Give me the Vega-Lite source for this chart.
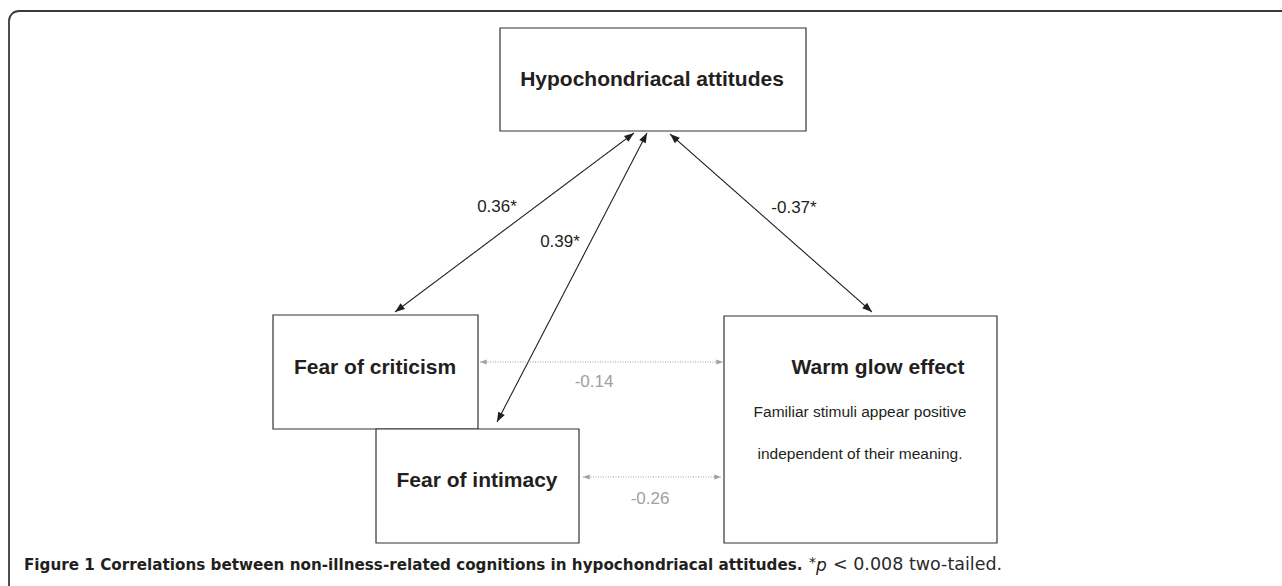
{
  "$schema": "https://vega.github.io/schema/vega-lite/v6.json",
  "width": 1282,
  "height": 586,
  "autosize": {"type": "fit", "contains": "padding"},
  "padding": 0,
  "background": "white",
  "config": {"view": {"stroke": null}},
  "datasets": {
    "frame": [{"x": 9, "y": 11, "x2": 1400, "y2": 700}],
    "boxes": [
      {"name": "Hypochondriacal attitudes", "x": 500, "x2": 806, "y": 28, "y2": 131},
      {"name": "Fear of criticism", "x": 273, "x2": 478, "y": 315, "y2": 429},
      {"name": "Fear of intimacy", "x": 376, "x2": 579, "y": 429, "y2": 543},
      {"name": "Warm glow effect", "x": 724, "x2": 997, "y": 316, "y2": 543}
    ],
    "arrows": [
      {"pair": "HA-FC", "x": 634, "y": 133, "x2": 395, "y2": 312, "sig": "yes"},
      {"pair": "HA-FI", "x": 647, "y": 133, "x2": 497, "y2": 422, "sig": "yes"},
      {"pair": "HA-WG", "x": 670, "y": 134, "x2": 872, "y2": 312, "sig": "yes"},
      {"pair": "FC-WG", "x": 480, "y": 362, "x2": 723, "y2": 362, "sig": "no"},
      {"pair": "FI-WG", "x": 583, "y": 477, "x2": 721, "y2": 477, "sig": "no"}
    ],
    "labels": [
      {"t": "0.36*", "x": 497, "y": 207, "sig": "yes"},
      {"t": "0.39*", "x": 560, "y": 242, "sig": "yes"},
      {"t": "-0.37*", "x": 794, "y": 208, "sig": "yes"},
      {"t": "-0.14", "x": 594, "y": 382, "sig": "no"},
      {"t": "-0.26", "x": 650, "y": 499, "sig": "no"}
    ],
    "titles": [
      {"t": "Hypochondriacal attitudes", "x": 652, "y": 80},
      {"t": "Fear of criticism", "x": 375, "y": 368},
      {"t": "Fear of intimacy", "x": 477, "y": 481},
      {"t": "Warm glow effect", "x": 878, "y": 368}
    ],
    "desc": [
      {"t": "Familiar stimuli appear positive", "x": 860, "y": 412},
      {"t": "independent of their meaning.", "x": 860, "y": 454}
    ]
  },
  "encoding": {
    "x": {"field": "x", "type": "quantitative", "axis": null, "scale": {"domain": [0, 1282], "nice": false, "zero": false}},
    "y": {"field": "y", "type": "quantitative", "axis": null, "scale": {"domain": [0, 586], "nice": false, "zero": false, "reverse": true}}
  },
  "layer": [
    {
      "data": {"name": "frame"},
      "mark": {"type": "rect", "fill": null, "stroke": "#3a3a3a", "strokeWidth": 1.8, "cornerRadius": 10, "clip": true},
      "encoding": {"x2": {"field": "x2"}, "y2": {"field": "y2"}}
    },
    {
      "data": {"name": "boxes"},
      "mark": {"type": "rect", "fill": "white", "stroke": "#333333", "strokeWidth": 1.2},
      "encoding": {"x2": {"field": "x2"}, "y2": {"field": "y2"}}
    },
    {
      "data": {"name": "arrows"},
      "mark": {"type": "rule", "strokeWidth": 1.1},
      "encoding": {
        "x2": {"field": "x2"},
        "y2": {"field": "y2"},
        "color": {"field": "sig", "type": "nominal", "scale": {"domain": ["yes", "no"], "range": ["#231f20", "#a0a0a0"]}, "legend": null},
        "strokeDash": {"field": "sig", "type": "nominal", "scale": {"domain": ["yes", "no"], "range": [[1, 0], [1, 1.5]]}, "legend": null}
      }
    },
    {
      "data": {"name": "arrows"},
      "transform": [{"calculate": "atan2(datum.x - datum.x2, datum.y2 - datum.y) * 180 / PI", "as": "ang"}],
      "mark": {"type": "point", "shape": "M0,0L-0.38,1L0.38,1Z", "filled": true, "opacity": 1, "strokeWidth": 0},
      "encoding": {
        "angle": {"field": "ang", "type": "quantitative", "scale": null},
        "size": {"field": "sig", "type": "nominal", "scale": {"domain": ["yes", "no"], "range": [380, 180]}, "legend": null},
        "color": {"field": "sig", "type": "nominal", "scale": {"domain": ["yes", "no"], "range": ["#231f20", "#a0a0a0"]}, "legend": null}
      }
    },
    {
      "data": {"name": "arrows"},
      "transform": [{"calculate": "atan2(datum.x2 - datum.x, datum.y - datum.y2) * 180 / PI", "as": "ang"}],
      "mark": {"type": "point", "shape": "M0,0L-0.38,1L0.38,1Z", "filled": true, "opacity": 1, "strokeWidth": 0},
      "encoding": {
        "x": {"field": "x2", "type": "quantitative", "axis": null, "scale": {"domain": [0, 1282], "nice": false, "zero": false}},
        "y": {"field": "y2", "type": "quantitative", "axis": null, "scale": {"domain": [0, 586], "nice": false, "zero": false, "reverse": true}},
        "angle": {"field": "ang", "type": "quantitative", "scale": null},
        "size": {"field": "sig", "type": "nominal", "scale": {"domain": ["yes", "no"], "range": [380, 180]}, "legend": null},
        "color": {"field": "sig", "type": "nominal", "scale": {"domain": ["yes", "no"], "range": ["#231f20", "#a0a0a0"]}, "legend": null}
      }
    },
    {
      "data": {"name": "labels"},
      "mark": {"type": "text", "font": "Liberation Sans", "fontSize": 17, "align": "center", "baseline": "middle"},
      "encoding": {
        "text": {"field": "t"},
        "color": {"field": "sig", "type": "nominal", "scale": {"domain": ["yes", "no"], "range": ["#231f20", "#9a9a9a"]}, "legend": null}
      }
    },
    {
      "data": {"name": "titles"},
      "mark": {"type": "text", "font": "Liberation Sans", "fontSize": 21, "fontWeight": "bold", "align": "center", "baseline": "middle", "color": "#231f20"},
      "encoding": {"text": {"field": "t"}}
    },
    {
      "data": {"name": "desc"},
      "mark": {"type": "text", "font": "Liberation Sans", "fontSize": 15.5, "align": "center", "baseline": "middle", "color": "#231f20"},
      "encoding": {"text": {"field": "t"}}
    },
    {
      "data": {"values": [{"t": "Figure 1 Correlations between non-illness-related cognitions in hypochondriacal attitudes.", "x": 24, "y": 565}]},
      "mark": {"type": "text", "font": "DejaVu Sans", "fontSize": 15.2, "fontWeight": "bold", "align": "left", "baseline": "middle", "color": "#231f20"},
      "encoding": {"text": {"field": "t"}}
    },
    {
      "data": {"values": [{"t": "*", "x": 809, "y": 563}]},
      "mark": {"type": "text", "font": "DejaVu Sans", "fontSize": 14, "align": "left", "baseline": "middle", "color": "#231f20"},
      "encoding": {"text": {"field": "t"}}
    },
    {
      "data": {"values": [{"t": "p", "x": 816, "y": 566}]},
      "mark": {"type": "text", "font": "DejaVu Sans", "fontSize": 17, "fontStyle": "italic", "align": "left", "baseline": "middle", "color": "#231f20"},
      "encoding": {"text": {"field": "t"}}
    },
    {
      "data": {"values": [{"t": "< 0.008 two-tailed.", "x": 833, "y": 565}]},
      "mark": {"type": "text", "font": "DejaVu Sans", "fontSize": 17.5, "align": "left", "baseline": "middle", "color": "#2a2a2a"},
      "encoding": {"text": {"field": "t"}}
    }
  ]
}
